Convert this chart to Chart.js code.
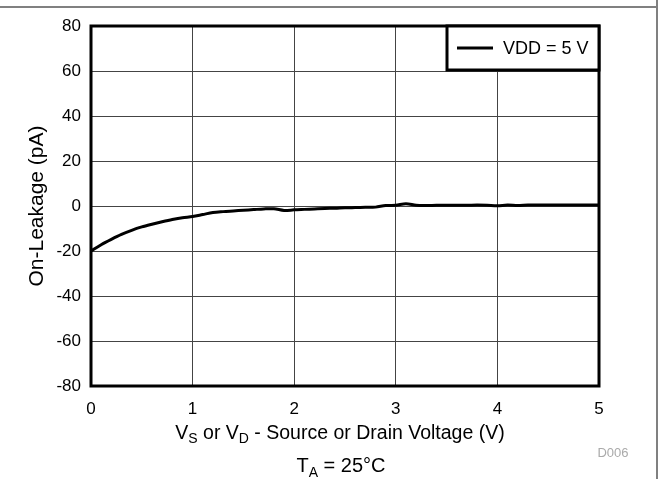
<!DOCTYPE html>
<html>
<head>
<meta charset="utf-8">
<script src="https://cdn.jsdelivr.net/npm/chart.js@4"></script>
<style>
  html, body { margin: 0; padding: 0; background: #fff; }
  #wrap { width: 665px; height: 479px; position: relative; }
</style>
</head>
<body>
<div id="wrap"><canvas id="leakChart"></canvas></div>
<script>
var FONT = '"Liberation Sans", Arial, Helvetica, sans-serif';

// source/drain voltage (V) and measured on-leakage (pA)
var voltage = [0.0, 0.1, 0.2, 0.3, 0.4, 0.5, 0.6, 0.7, 0.8, 0.9,
               1.0, 1.1, 1.2, 1.3, 1.4, 1.5, 1.6, 1.7, 1.8, 1.9,
               2.0, 2.1, 2.2, 2.3, 2.4, 2.5, 2.6, 2.7, 2.8, 2.9,
               3.0, 3.1, 3.2, 3.3, 3.4, 3.5, 3.6, 3.7, 3.8, 3.9,
               4.0, 4.1, 4.2, 4.3, 4.4, 4.5, 4.6, 4.7, 4.8, 4.9, 5.0];
var leakage = [-20.0, -17.2, -14.8, -12.6, -10.8, -9.3, -8.1, -7.0, -6.0, -5.2,
               -4.7, -3.8, -2.9, -2.5, -2.2, -1.9, -1.6, -1.3, -1.2, -2.0,
               -1.7, -1.5, -1.3, -1.1, -1.0, -0.8, -0.7, -0.6, -0.5, 0.2,
               0.3, 1.0, 0.3, 0.2, 0.3, 0.3, 0.3, 0.3, 0.4, 0.3,
               0.1, 0.4, 0.2, 0.4, 0.4, 0.4, 0.4, 0.4, 0.4, 0.4, 0.4];
var seriesName = 'VDD = 5 V';
var xTicks = [0, 1, 2, 3, 4, 5];
var yTicks = [-80, -60, -40, -20, 0, 20, 40, 60, 80];

var points = voltage.map(function (v, i) { return { x: v, y: leakage[i] }; });

// draws a run of [text, isSubscript] pieces centred on cx
function drawSubText(c, parts, cx, y, big, small, drop) {
    var total = 0;
    parts.forEach(function (p) {
        c.font = p[1] ? small : big;
        total += c.measureText(p[0]).width;
    });
    var x = cx - total / 2;
    c.textAlign = 'left';
    c.textBaseline = 'alphabetic';
    parts.forEach(function (p) {
        c.font = p[1] ? small : big;
        c.fillText(p[0], x, p[1] ? y + drop : y);
        x += c.measureText(p[0]).width;
    });
}

// frame, boxed legend, axis titles and footnote
var decorations = {
    id: 'decorations',
    afterDraw: function (chart) {
        var c = chart.ctx;
        var a = chart.chartArea;
        c.save();

        // outer page frame
        c.strokeStyle = '#808080';
        c.lineWidth = 2;
        c.beginPath();
        c.moveTo(0, 7);
        c.lineTo(657, 7);
        c.moveTo(657, 0);
        c.lineTo(657, 479);
        c.stroke();

        // heavy plot border
        c.strokeStyle = '#000';
        c.lineWidth = 3;
        c.strokeRect(a.left, a.top, a.right - a.left, a.bottom - a.top);

        // legend box in the top right corner
        var lx = a.right - 152, ly = a.top, lw = 152, lh = 44;
        c.fillStyle = '#fff';
        c.fillRect(lx, ly, lw, lh);
        c.lineWidth = 3;
        c.strokeRect(lx, ly, lw, lh);
        c.beginPath();
        c.moveTo(lx + 10, ly + lh / 2);
        c.lineTo(lx + 46, ly + lh / 2);
        c.stroke();
        c.fillStyle = '#000';
        c.font = '18px ' + FONT;
        c.textBaseline = 'middle';
        c.textAlign = 'left';
        c.fillText(seriesName, lx + 56, ly + lh / 2 + 1);

        // y axis title
        c.save();
        c.translate(37, (a.top + a.bottom) / 2);
        c.rotate(-Math.PI / 2);
        c.textAlign = 'center';
        c.textBaseline = 'middle';
        c.font = '21px ' + FONT;
        c.fillText('On-Leakage (pA)', 0, 0);
        c.restore();

        // x axis title with subscripts
        drawSubText(c, [
            ['V', false], ['S', true], [' or V', false], ['D', true],
            [' - Source or Drain Voltage (V)', false]
        ], 340, 439, '19.5px ' + FONT, '14px ' + FONT, 4);

        // drawing id
        c.fillStyle = '#aaa';
        c.font = '13px ' + FONT;
        c.textAlign = 'center';
        c.fillText('D006', 613, 457);

        // ambient temperature note
        c.fillStyle = '#000';
        drawSubText(c, [['T', false], ['A', true], [' = 25°C', false]],
            341, 472, '20px ' + FONT, '14px ' + FONT, 5);

        c.restore();
    }
};

new Chart(document.getElementById('leakChart'), {
    type: 'line',
    data: {
        datasets: [{
            label: seriesName,
            data: points,
            borderColor: '#000',
            borderWidth: 3,
            pointRadius: 0,
            tension: 0.3,
            fill: false
        }]
    },
    options: {
        responsive: true,
        maintainAspectRatio: false,
        animation: false,
        layout: { padding: { top: 26, right: 66, left: 0, bottom: 0 } },
        plugins: {
            legend: { display: false },
            tooltip: { enabled: false }
        },
        scales: {
            x: {
                type: 'linear',
                min: 0,
                max: 5,
                afterFit: function (s) { s.height = 93; },
                afterBuildTicks: function (s) {
                    s.ticks = xTicks.map(function (v) { return { value: v }; });
                },
                grid: { color: '#444', lineWidth: 1, drawTicks: false },
                border: { display: false },
                ticks: {
                    padding: 13,
                    color: '#000',
                    font: { family: FONT, size: 17 },
                    maxRotation: 0
                }
            },
            y: {
                min: -80,
                max: 80,
                afterFit: function (s) { s.width = 91; },
                afterBuildTicks: function (s) {
                    s.ticks = yTicks.map(function (v) { return { value: v }; });
                },
                grid: { color: '#444', lineWidth: 1, drawTicks: false },
                border: { display: false },
                ticks: {
                    padding: 10,
                    color: '#000',
                    font: { family: FONT, size: 17 }
                }
            }
        }
    },
    plugins: [decorations]
});
</script>
</body>
</html>
